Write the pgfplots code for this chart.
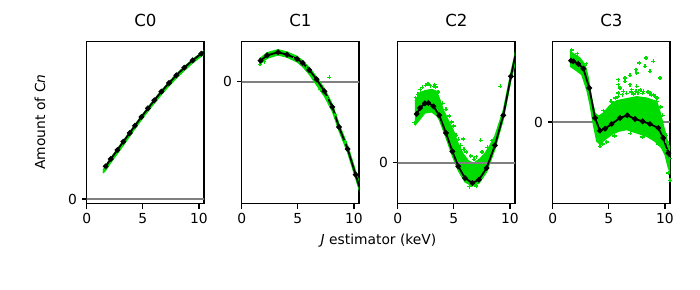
\documentclass[border=0pt]{standalone}
\usepackage{fontspec}
\setmainfont{DejaVu Sans}
\usepackage{pgfplots}
\pgfplotsset{compat=1.18}
\definecolor{lgreen}{RGB}{0,220,0}
\definecolor{zgray}{RGB}{128,128,128}
\pgfplotsset{
  panel/.style={
    scale only axis, width=1.173in, height=1.624in, anchor=south west,
    xmin=0, xmax=10.45, xtick={0,5,10}, ytick={0},
    tick align=outside, xtick pos=bottom, ytick pos=left,
    major tick length=0.0486in,
    every tick/.style={black, line width=0.8pt},
    axis line style={line width=0.8pt},
    /pgf/number format/assume math mode=true,
    tick label style={font=\fontsize{10}{12}\selectfont},
    title style={font=\fontsize{12}{14}\selectfont, yshift=1pt},
    clip=true,
  },
  blk/.style={black, line width=1.3pt, mark=*, mark size=1.3pt, mark options={solid}},
  gfill/.style={draw=lgreen, line width=0.8pt, fill=lgreen},
  gpts/.style={only marks, mark=+, mark size=1.5pt, lgreen, mark options={line width=0.9pt}},
  zline/.style={zgray, line width=1.5pt},
}
\begin{document}
\begin{tikzpicture}
\useasboundingbox (0,0) rectangle (7in,2.9in);
% ---------------- C0
\begin{axis}[panel, at={(0.867in,0.863in)}, ymin=-14, ymax=473, title={C0}]
\addplot[zline] coordinates {(-1,0) (12,0)};
\addplot[gfill] coordinates {(1.45,86)(1.69,101)(2.14,123)(2.73,150)(3.26,175)(3.83,201)(4.30,223)(4.87,249)(5.46,275)(6.02,299)(6.65,325)(7.33,351)(7.98,374)(8.69,397)(9.44,419)(10.21,439)(10.6,448)
(10.6,438)(10.21,428)(9.44,408)(8.69,385)(7.98,362)(7.33,339)(6.65,313)(6.02,287)(5.46,263)(4.87,237)(4.30,211)(3.83,188)(3.26,161)(2.73,136)(2.14,109)(1.69,86)(1.45,78)};
\addplot[blk] coordinates {(1.69,98)(2.14,120)(2.73,147)(3.26,172)(3.83,198)(4.30,220)(4.87,246)(5.46,272)(6.02,296)(6.65,322)(7.33,348)(7.98,371)(8.69,394)(9.44,416)(10.21,436)(10.95,454)};
\end{axis}
% ---------------- C1
\begin{axis}[panel, at={(2.417in,0.863in)}, ymin=-366, ymax=121, title={C1}]
\addplot[zline] coordinates {(-1,0) (12,0)};
\addplot[gfill] coordinates {(1.55,70)(1.68,71)(2.27,87)(3.24,96)(4.04,89)(4.93,76)(5.43,63)(6.02,42)(6.67,14)(7.37,-21)(8.08,-68)(8.67,-127)(9.44,-192)(10.15,-268)(10.6,-315)
(10.6,-340)(10.15,-290)(9.44,-213)(8.67,-148)(8.08,-90)(7.37,-44)(6.67,-10)(6.02,22)(5.43,45)(4.93,59)(4.04,73)(3.24,80)(2.27,70)(1.68,54)(1.55,57)};
\addplot[gpts] coordinates {(7.79,13)(1.62,52)(6.55,-2)(7.0,-24)(7.6,-50)(8.3,-100)(9.2,-180)(5.8,40)(4.6,68)(2.0,60)};
\addplot[blk] coordinates {(1.68,63)(2.27,79)(3.24,88)(4.04,81)(4.93,68)(5.43,56)(6.02,35)(6.67,7)(7.37,-29)(8.08,-76)(8.67,-136)(9.44,-202)(10.15,-279)(10.9,-360)};
\end{axis}
% ---------------- C2
\begin{axis}[panel, at={(3.977in,0.863in)}, ymin=-123, ymax=364, title={C2}]
\addplot[gfill] coordinates {(1.54,184)(1.99,210)(2.43,216)(3.03,220)(3.47,214)(3.77,188)(4.07,158)(4.51,127)(4.96,97)(5.40,56)(5.85,26)(6.29,6)(6.74,-2)(7.33,12)(7.77,28)(8.22,52)(8.66,80)(9.41,158)(10.09,272)(10.6,350)
(10.6,318)(10.09,247)(9.41,130)(8.66,40)(7.92,-28)(7.24,-62)(6.65,-70)(5.99,-58)(5.40,-24)(4.87,20)(4.30,75)(3.71,128)(3.5,140)(3.03,152)(2.43,149)(1.84,124)(1.54,112)};
\addplot[gpts] coordinates {(2.2,226)(2.5,232)(2.9,231)(3.2,229)(3.4,227)(2.0,219)(3.6,212)(1.6,195)(1.5,120)(4.0,178)(4.6,140)(5.0,110)(5.2,82)(5.6,52)(6.1,32)(6.5,20)(7.0,18)(7.5,32)(8.0,46)(5.85,71)(7.39,67)(9.14,229)(6.4,-72)(7.0,-70)(5.6,40)(6.8,10)(2.7,236)(3.3,234)(1.8,205)(4.3,160)(4.8,122)(5.4,70)(5.9,40)(8.4,66)};
\addplot[zline] coordinates {(-1,0) (12,0)};
\addplot[blk] coordinates {(1.69,146)(1.99,164)(2.43,178)(2.73,179)(3.18,169)(3.71,142)(4.30,89)(4.87,34)(5.40,-11)(5.99,-46)(6.65,-61)(7.24,-51)(7.92,-16)(8.66,52)(9.41,142)(10.09,259)(10.8,372)};
\end{axis}
% ---------------- C3
\begin{axis}[panel, at={(5.527in,0.863in)}, ymin=-245, ymax=242, title={C3}]
\addplot[zline] coordinates {(-1,0) (12,0)};
\addplot[gfill] coordinates {(1.54,212)(1.99,202)(2.43,192)(2.88,172)(3.18,132)(3.47,72)(3.77,27)(4.07,17)(4.51,27)(5.10,50)(5.70,64)(6.29,68)(6.88,72)(7.48,76)(8.37,72)(9.26,62)(9.55,32)(10.0,-28)(10.30,-68)(10.6,-80)
(10.6,-165)(10.30,-138)(10.0,-98)(9.70,-78)(9.11,-58)(8.37,-43)(7.48,-33)(6.59,-23)(5.85,-28)(5.25,-38)(4.66,-53)(4.21,-66)(3.92,-58)(3.62,-8)(3.32,52)(3.03,97)(2.58,142)(1.99,157)(1.54,167)};
\addplot[gpts] coordinates {(5.85,127)(5.85,112)(5.99,102)(6.44,132)(6.44,122)(6.88,140)(7.42,157)(7.48,147)(7.72,177)(8.31,192)(8.22,167)(8.66,152)(8.96,182)(9.55,132)(7.48,107)(7.42,92)(5.40,57)(4.96,37)(4.51,34)(8.66,87)(5.85,87)(5.85,77)(6.88,112)(7.03,97)(8.07,92)(9.11,77)(9.26,62)(4.21,-73)(4.45,-66)(10.30,-153)(10.0,-83)(1.69,216)(6.2,82)(6.6,86)(7.0,90)(7.6,88)(8.0,86)(8.5,90)(9.0,82)(7.8,96)(6.3,92)(9.3,72)(9.6,45)(9.8,20)(10.1,-40)(10.2,-60)(10.4,-110)(10.45,-175)(3.0,175)(2.2,205)(5.2,62)(5.6,72)(7.2,84)(8.8,80)(4.8,-60)(5.5,-42)(6.9,-34)(8.0,-45)(9.4,-66)};
\addplot[blk] coordinates {(1.63,184)(1.84,182)(2.28,174)(2.73,160)(3.26,102)(3.77,12)(4.21,-26)(4.66,-20)(5.25,-6)(5.99,12)(6.65,20)(7.33,9)(8.01,2)(8.66,-6)(9.41,-18)(9.85,-48)(10.30,-93)(10.8,-143)};
\end{axis}
\node[rotate=90, font=\fontsize{10}{12}\selectfont] at (0.40in,1.68in) {Amount of C\textit{n}};
\node[font=\fontsize{10}{12}\selectfont] at (3.785in,0.49in) {\textit{J} estimator (keV)};
\end{tikzpicture}
\end{document}
